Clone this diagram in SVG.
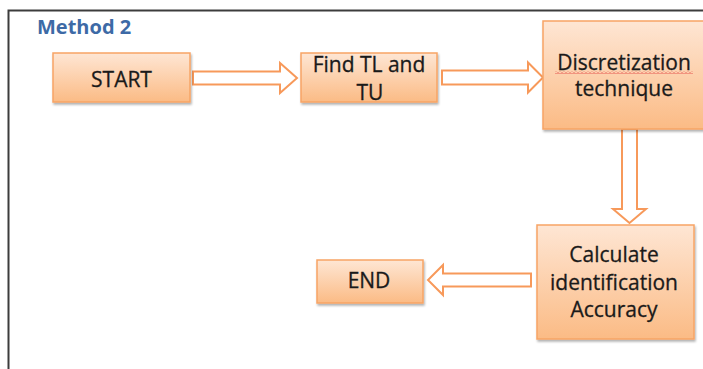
<svg xmlns="http://www.w3.org/2000/svg" width="703" height="369" viewBox="0 0 703 369">
<style>
.box{fill:url(#grad);stroke:#f7a465;stroke-width:1.5;filter:url(#sh)}
.lbl{font-family:"Open Sans","Liberation Sans",sans-serif;font-size:21px;fill:#1a1a1a;stroke:#1a1a1a;stroke-width:0.3;text-anchor:middle}
.arrow{fill:#ffffff;stroke:#f7995a;stroke-width:2;stroke-linejoin:miter}
.title{font-family:"Open Sans","Liberation Sans",sans-serif;font-size:20px;font-weight:bold;fill:#3d6aa6}
</style>
<defs>
<linearGradient id="grad" x1="0" y1="0" x2="0" y2="1">
<stop offset="0" stop-color="#fee6d4"/>
<stop offset="1" stop-color="#fbbb85"/>
</linearGradient>
<filter id="sh" x="-10%" y="-10%" width="125%" height="130%">
<feDropShadow dx="1" dy="2" stdDeviation="1.2" flood-color="#000" flood-opacity="0.3"/>
</filter>
<pattern id="squig" width="4" height="3" patternUnits="userSpaceOnUse">
<path d="M0,2.5 L2,0.5 L4,2.5" fill="none" stroke="#e03a3a" stroke-width="0.8"/>
</pattern>
</defs>
<rect width="703" height="369" fill="#ffffff"/>
<path d="M8.5,369 V10.5 H703" fill="none" stroke="#3c3c3c" stroke-width="2"/>
<text class="title" x="37" y="34">Method 2</text>
<g id="connectors">
<polygon class="arrow" points="193,71.5 280,71.5 280,63 297,78 280,93 280,84.5 193,84.5"/>
<polygon class="arrow" points="442,70.5 528,70.5 528,62.5 543,77.5 528,92.5 528,84.5 442,84.5"/>
<polygon class="arrow" points="622,129 637,129 637,209 646,209 629.5,223 613,209 622,209"/>
<polygon class="arrow" points="531,273.5 443,273.5 443,265 428,280 443,295 443,286.5 531,286.5"/>
</g>
<g id="start">
<rect class="box" x="53" y="53" width="137" height="49"/>
<text class="lbl" x="121.5" y="87">START</text>
</g>
<g id="find">
<rect class="box" x="301" y="53" width="136" height="49"/>
<text class="lbl" x="369" y="72">Find TL and</text>
<text class="lbl" x="370" y="100">TU</text>
</g>
<g id="discretization">
<rect class="box" x="543" y="21" width="162" height="108"/>
<text class="lbl" x="624" y="70">Discretization</text>
<rect x="555" y="71" width="138" height="3" fill="url(#squig)"/>
<text class="lbl" x="624" y="96">technique</text>
</g>
<g id="calculate">
<rect class="box" x="537" y="225" width="157" height="114"/>
<text class="lbl" x="614" y="262">Calculate</text>
<text class="lbl" x="614" y="290">identification</text>
<text class="lbl" x="614" y="317">Accuracy</text>
</g>
<g id="end">
<rect class="box" x="317" y="260" width="106" height="43"/>
<text class="lbl" x="369" y="288">END</text>
</g>
</svg>
